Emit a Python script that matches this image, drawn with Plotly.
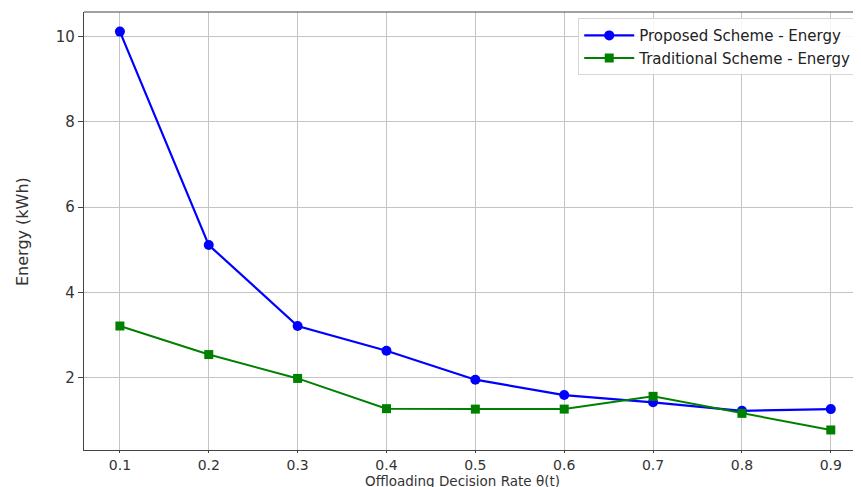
import plotly.graph_objects as go

theta = [0.1, 0.2, 0.3, 0.4, 0.5, 0.6, 0.7, 0.8, 0.9]
proposed_energy = [10.12, 5.11, 3.21, 2.63, 1.95, 1.59, 1.42, 1.22, 1.26]
traditional_energy = [3.21, 2.54, 1.98, 1.27, 1.26, 1.26, 1.56, 1.16, 0.77]
x_ticks = [0.1, 0.2, 0.3, 0.4, 0.5, 0.6, 0.7, 0.8, 0.9]
y_ticks = [2, 4, 6, 8, 10]

fig = go.Figure()
fig.add_trace(go.Scatter(
    x=theta, y=proposed_energy, mode="lines+markers",
    name="Proposed Scheme - Energy",
    line=dict(color="#0000ff", width=2.2),
    marker=dict(symbol="circle", size=10, color="#0000ff"),
))
fig.add_trace(go.Scatter(
    x=theta, y=traditional_energy, mode="lines+markers",
    name="Traditional Scheme - Energy",
    line=dict(color="#008000", width=2),
    marker=dict(symbol="square", size=9, color="#008000"),
))

font = "DejaVu Sans"
# page is offset by the 8px body margin; margins compensate
fig.update_layout(
    width=861, height=487,
    margin=dict(l=76, r=0, t=4, b=45),
    paper_bgcolor="white", plot_bgcolor="white",
    font=dict(family=font, color="#333333", size=14),
    showlegend=True,
    legend=dict(
        x=0.985, y=0.986, xanchor="right", yanchor="top",
        bgcolor="rgba(255,255,255,0.85)", bordercolor="#d6d6d6", borderwidth=1,
        font=dict(family=font, size=15, color="#222222"),
        itemwidth=50, tracegroupgap=0,
    ),
    annotations=[
        dict(text="Offloading Decision Rate θ(t)", xref="paper", yref="paper",
             x=0.482, y=-0.0705, xanchor="center", yanchor="middle", showarrow=False,
             font=dict(family=font, size=13.5, color="#333333")),
        dict(text="Energy (kWh)", xref="paper", yref="paper", textangle=-90,
             x=-0.079, y=0.5, xanchor="center", yanchor="middle", showarrow=False,
             font=dict(family="Liberation Sans Narrow, " + font, size=16, color="#333333")),
    ],
)
fig.update_xaxes(
    range=[0.0596, 0.943], tickvals=x_ticks, ticktext=[f"{v:.1f}" for v in x_ticks],
    showgrid=True, gridcolor="#c4c4c4", gridwidth=1.2,
    showline=True, linecolor="#444444", linewidth=1.2, mirror=False,
    ticks="outside", ticklen=2, tickcolor="#444444",
    tickfont=dict(family=font, size=14, color="#333333"),
    zeroline=False,
)
fig.update_yaxes(
    range=[0.30, 10.58], tickvals=y_ticks,
    showgrid=True, gridcolor="#c4c4c4", gridwidth=1.2,
    showline=True, linecolor="#444444", linewidth=1.2, mirror=False,
    ticks="outside", ticklen=5, tickcolor="#444444",
    tickfont=dict(family=font, size=15, color="#333333"),
    zeroline=False,
)
# top spine
fig.add_shape(type="line", xref="paper", yref="paper", x0=0, x1=1, y0=1, y1=1,
              line=dict(color="#444444", width=1.2))

fig.write_html("out.html")
